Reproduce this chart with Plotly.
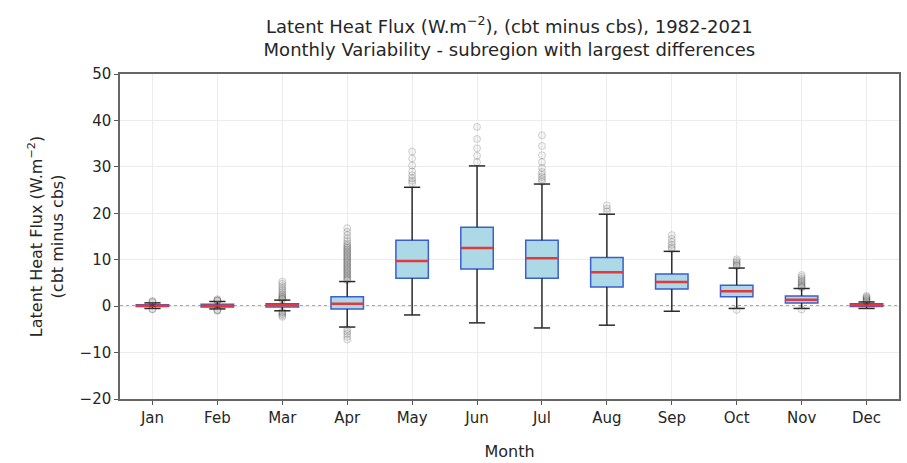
import plotly.graph_objects as go

months = ["Jan", "Feb", "Mar", "Apr", "May", "Jun", "Jul", "Aug", "Sep", "Oct", "Nov", "Dec"]
q1 = [-0.1, -0.2, -0.2, -0.6, 6.0, 8.0, 6.0, 4.1, 3.7, 2.0, 0.7, -0.1]
median = [0.1, 0.1, 0.2, 0.5, 9.7, 12.5, 10.3, 7.3, 5.2, 3.2, 1.4, 0.2]
q3 = [0.3, 0.4, 0.5, 2.0, 14.2, 17.0, 14.2, 10.5, 6.9, 4.5, 2.2, 0.5]
whisker_low = [-0.5, -0.6, -1.0, -4.5, -1.9, -3.6, -4.7, -4.1, -1.1, -0.5, -0.5, -0.5]
whisker_high = [0.7, 1.0, 1.3, 5.3, 25.6, 30.2, 26.3, 19.8, 11.8, 8.2, 3.8, 0.9]

outliers = [
    [0.8, 1.0, 1.1, -0.6, -0.7],
    [1.1, 1.2, 1.3, 1.5, -0.8, -0.9, -1.0],
    [1.4, 1.6, 1.8, 2.0, 2.3, 2.6, 3.0, 3.4, 3.8, 4.3, 4.8, 5.3, -1.2, -1.4, -1.7, -2.0, -2.3],
    [5.6, 5.9, 6.2, 6.5, 6.8, 7.1, 7.4, 7.7, 8.0, 8.3, 8.6, 8.9, 9.2, 9.5, 9.8, 10.1,
     10.4, 10.7, 11.0, 11.3, 11.6, 11.9, 12.2, 12.5, 12.8, 13.1, 13.5, 14.0, 14.6, 15.3,
     16.0, 16.8, -5.0, -5.5, -6.0, -6.6, -7.2],
    [26.5, 27.0, 27.5, 28.2, 29.0, 30.3, 31.8, 33.3],
    [31.0, 32.4, 34.0, 36.0, 38.6],
    [26.8, 27.3, 27.8, 28.3, 28.9, 29.8, 31.0, 32.5, 34.5, 36.8],
    [20.4, 21.0, 21.7],
    [12.3, 12.7, 13.2, 13.8, 14.5, 15.3],
    [8.6, 8.8, 9.1, 9.4, 9.7, 10.1, -0.8],
    [4.0, 4.2, 4.4, 4.7, 5.0, 5.3, 5.6, 5.9, 6.3, 6.7, -0.7],
    [1.0, 1.2, 1.4, 1.6, 1.8, 2.0, 2.2],
]

pos = list(range(len(months)))
BOX_W = 0.5
CAP_W = 0.25

fig = go.Figure()

# box bodies (whiskers drawn separately in dark grey)
fig.add_trace(go.Box(
    x=pos, q1=q1, median=median, q3=q3,
    lowerfence=q1, upperfence=q3,
    width=BOX_W, whiskerwidth=0, boxpoints=False,
    fillcolor="#add8e6", line=dict(color="#3a5fd0", width=1.5),
    showlegend=False, hoverinfo="skip",
))

# whiskers
wx, wy = [], []
for i in pos:
    wx += [i, i, None, i, i, None]
    wy += [q3[i], whisker_high[i], None, q1[i], whisker_low[i], None]
fig.add_trace(go.Scatter(x=wx, y=wy, mode="lines",
                         line=dict(color="#2b2b2b", width=1.5),
                         showlegend=False, hoverinfo="skip"))

# caps
cx, cy = [], []
for i in pos:
    for v in (whisker_high[i], whisker_low[i]):
        cx += [i - CAP_W / 2, i + CAP_W / 2, None]
        cy += [v, v, None]
fig.add_trace(go.Scatter(x=cx, y=cy, mode="lines",
                         line=dict(color="#2b2b2b", width=1.5),
                         showlegend=False, hoverinfo="skip"))

# medians
mx, my = [], []
for i in pos:
    mx += [i - BOX_W / 2, i + BOX_W / 2, None]
    my += [median[i], median[i], None]
fig.add_trace(go.Scatter(x=mx, y=my, mode="lines",
                         line=dict(color="#e03a3e", width=2.5),
                         showlegend=False, hoverinfo="skip"))

# outliers
ox, oy = [], []
for i in pos:
    for v in outliers[i]:
        ox.append(i)
        oy.append(v)
fig.add_trace(go.Scatter(x=ox, y=oy, mode="markers",
                         marker=dict(symbol="circle", size=7,
                                     color="rgba(120,120,120,0.08)",
                                     line=dict(color="rgba(0,0,0,0.16)", width=1)),
                         showlegend=False, hoverinfo="skip"))

fig.add_shape(type="line", xref="paper", x0=0, x1=1, yref="y", y0=0, y1=0,
              line=dict(color="#8a8a8a", width=1.8, dash="dot"), layer="below")

font = "DejaVu Sans, sans-serif"
fig.update_layout(
    width=907, height=463,
    margin=dict(l=120, r=8, t=74, b=64),
    paper_bgcolor="white", plot_bgcolor="white",
    font=dict(family=font, size=15, color="#262626"),
    title=dict(
        text="Latent Heat Flux (W.m<sup>−2</sup>), (cbt minus cbs), 1982-2021<br>Monthly Variability - subregion with largest differences",
        x=0.5616, xanchor="center", y=0.929, yanchor="middle",
        font=dict(family=font, size=18, color="#262626"),
    ),
    xaxis=dict(
        range=[-0.5, 11.5], tickvals=pos, ticktext=months,
        ticks="outside", ticklen=4, tickcolor="#555",
        showgrid=True, gridcolor="#ececec", gridwidth=1,
        showline=True, linecolor="#666", linewidth=1.5, mirror=True,
        zeroline=False, automargin=False,
        title=dict(text="Month", font=dict(size=16), standoff=20),
        tickfont=dict(size=15),
    ),
    yaxis=dict(
        range=[-20, 50], dtick=10,
        ticks="outside", ticklen=4, tickcolor="#555",
        showgrid=True, gridcolor="#ececec", gridwidth=1,
        showline=True, linecolor="#666", linewidth=1.5, mirror=True,
        zeroline=False, automargin=False,
        title=dict(text="Latent Heat Flux (W.m<sup>−2</sup>)<br>(cbt minus cbs)", font=dict(size=16), standoff=12),
        tickfont=dict(size=15),
    ),
)

fig.write_html("out.html")
